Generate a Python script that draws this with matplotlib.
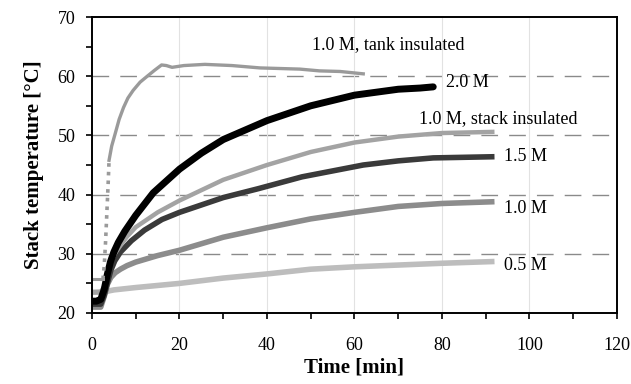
import numpy as np
import matplotlib
matplotlib.use("Agg")
from matplotlib import pyplot as plt
from matplotlib.ticker import MultipleLocator

# stack temperature vs time
t_tank_ramp = [2.5, 2.8, 3.1, 3.4, 3.7, 3.9]
T_tank_ramp = [25.7, 28.0, 32.0, 37.0, 42.0, 45.8]
t_tank = [0, 2.5, 3.9, 4.5, 5.3, 6.2, 7.2, 8.2, 9.4, 11, 12.8, 14.3, 15.9, 17, 18.3, 21, 25.8,
          32, 38.4, 47.5, 52, 56.7, 62]
T_tank = [25.7, 25.7, 45.8, 48.2, 50.3, 52.7, 54.7, 56.3, 57.6, 59.0, 60.1, 61.0, 61.9, 61.8,
          61.5, 61.8, 62.0, 61.8, 61.4, 61.2, 60.9, 60.8, 60.4]

t_20 = [0, 1, 2, 2.8, 3.5, 4.2, 5, 6, 7.5, 10, 14, 20, 25, 30, 40, 50, 60, 70, 75, 78]
T_20 = [22, 22, 22.3, 24, 26.5, 28.6, 30.3, 31.9, 33.8, 36.5, 40.3, 44.3, 47, 49.3, 52.5,
        55, 56.8, 57.8, 58.0, 58.2]

t_stack = [0, 2, 2.8, 3.5, 4.3, 5.2, 6.5, 8, 10, 15, 20, 30, 40, 50, 60, 70, 80, 92]
T_stack = [23.5, 23.5, 24.5, 26.5, 28.6, 30.0, 31.4, 32.9, 34.5, 37, 39, 42.5, 45, 47.2,
           48.8, 49.8, 50.4, 50.6]

t_15 = [0, 2, 2.8, 3.5, 4.3, 5.2, 6.5, 9, 12, 16, 20, 26, 30, 38, 48, 55, 62, 70, 78, 92]
T_15 = [21.5, 21.5, 23, 25, 27.2, 28.8, 30.3, 32.2, 34, 35.8, 37, 38.5, 39.5, 41, 43, 44,
        45, 45.7, 46.2, 46.4]

t_10 = [0, 2, 2.8, 3.5, 4.3, 5.3, 6.5, 8, 10, 15, 20, 30, 40, 50, 60, 70, 80, 92]
T_10 = [21, 21, 22.8, 24.8, 26.0, 26.8, 27.4, 28.0, 28.6, 29.7, 30.6, 32.8, 34.4, 35.9,
        37, 38, 38.5, 38.8]

t_05 = [0, 3, 5, 10, 20, 30, 40, 50, 60, 70, 80, 92]
T_05 = [23.5, 23.6, 23.9, 24.3, 25, 25.9, 26.6, 27.4, 27.8, 28.1, 28.4, 28.7]

labels = ["1.0 M, tank insulated", "2.0 M", "1.0 M, stack insulated", "1.5 M", "1.0 M", "0.5 M"]
label_xy = [(50.3, 65.3), (81.0, 58.9), (74.7, 52.9), (94.2, 46.4), (94.2, 37.6), (94.2, 28.1)]

plt.rcParams["font.family"] = "Liberation Serif"

fig = plt.figure(figsize=(6.31, 3.84), dpi=100)
ax = fig.add_axes([0.1458, 0.1849, 0.8320, 0.7708])

# grid: dashed horizontal, faint solid vertical
for y in [30, 40, 50, 60]:
    ax.axhline(y, color="#8a8a8a", lw=1.0, dashes=(12, 8), zorder=0)
for x in [20, 40, 60, 80, 100]:
    ax.axvline(x, color="#e2e2e2", lw=0.8, zorder=0)

ax.plot(t_05, T_05, color="#bdbdbd", lw=4.0, solid_capstyle="butt")
ax.plot(t_10, T_10, color="#8c8c8c", lw=4.0, solid_capstyle="butt")
ax.plot(t_15, T_15, color="#3a3a3a", lw=4.0, solid_capstyle="butt")
ax.plot(t_stack, T_stack, color="#a3a3a3", lw=3.2, solid_capstyle="butt")
ax.plot(t_20, T_20, color="#000000", lw=5.0, solid_capstyle="round")
ax.plot(t_tank[:2], T_tank[:2], color="#9a9a9a", lw=2.2)
ax.plot(t_tank_ramp, T_tank_ramp, color="#9a9a9a", lw=2.6, dashes=(1, 1.4))
ax.plot(t_tank[2:], T_tank[2:], color="#9a9a9a", lw=2.4)

for txt, (x, y) in zip(labels, label_xy):
    ax.text(x, y, txt, fontsize=13, va="center", ha="left")

ax.set_xlim(0, 120)
ax.set_ylim(20, 70)
ax.xaxis.set_major_locator(MultipleLocator(20))
ax.xaxis.set_minor_locator(MultipleLocator(10))
ax.yaxis.set_major_locator(MultipleLocator(10))
ax.yaxis.set_minor_locator(MultipleLocator(5))
ax.tick_params(which="both", direction="out", length=4, width=1.2, labelsize=13)
ax.tick_params(axis="x", pad=13)
ax.tick_params(axis="y", pad=8)
for s in ax.spines.values():
    s.set_linewidth(1.4)

ax.set_xlabel("Time [min]", fontsize=15, fontweight="bold", labelpad=3)
ax.set_ylabel("Stack temperature [°C]", fontsize=15, fontweight="bold", labelpad=10)

fig.savefig("out.png", dpi=100)
